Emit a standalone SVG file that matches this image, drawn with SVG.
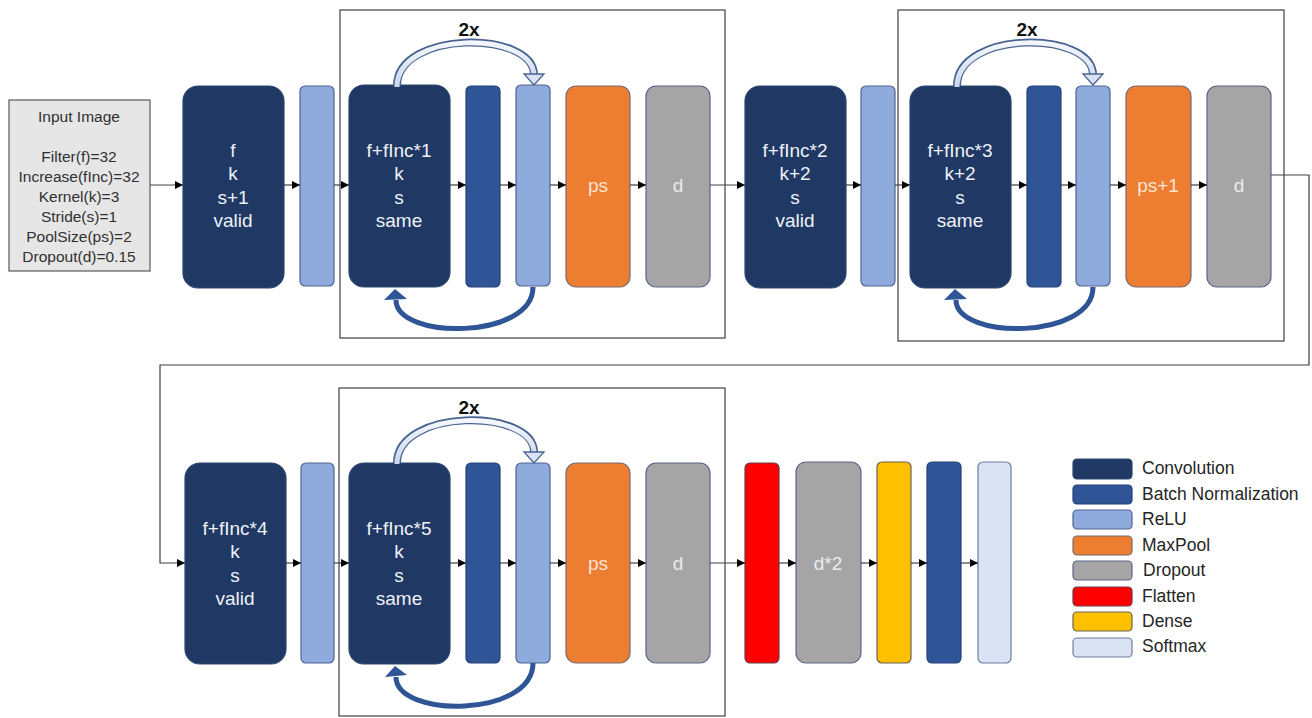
<svg xmlns="http://www.w3.org/2000/svg" width="1312" height="718" viewBox="0 0 1312 718">
  <defs>
    <marker id="arr" viewBox="0 0 10 10" refX="10" refY="5" markerWidth="9" markerHeight="8" markerUnits="userSpaceOnUse" orient="auto">
      <path d="M0,0 L10,5 L0,10 z" fill="#000"/>
    </marker>
    <linearGradient id="loopFill" x1="0" y1="0" x2="0" y2="1">
      <stop offset="0" stop-color="#f4f7fc"/>
      <stop offset="1" stop-color="#c9d6ee"/>
    </linearGradient>
  </defs>
  <style>
    .conv { fill: #1f3864; stroke: #2c4670; stroke-width: 1.2; }
    .bn { fill: #2f5597; stroke: #23427a; stroke-width: 1.2; }
    .relu { fill: #8faadc; stroke: #50648f; stroke-width: 1.2; }
    .pool { fill: #ed7d31; stroke: #7a6a70; stroke-width: 1.2; }
    .drop { fill: #a5a5a5; stroke: #5a6488; stroke-width: 1.2; }
    .flat { fill: #ff0000; stroke: #6a3a48; stroke-width: 1.2; }
    .dense { fill: #ffc000; stroke: #6a6050; stroke-width: 1.2; }
    .soft { fill: #dae3f3; stroke: #6f7d9c; stroke-width: 1.2; }
    .group { fill: none; stroke: #404040; stroke-width: 1.2; }
    .link { fill: none; stroke: #404040; stroke-width: 1.2; marker-end: url(#arr); }
    .t { font-family: "Liberation Sans", Arial, sans-serif; font-size: 19px; text-anchor: middle; }
    .tw { fill: #eef1f7; }
    .tp { fill: #fbe5d6; }
    .td { fill: #ececec; }
    .info { font-family: "Liberation Sans", Arial, sans-serif; font-size: 15.5px; fill: #303030; text-anchor: middle; }
    .rep { font-family: "Liberation Sans", Arial, sans-serif; font-size: 19px; font-weight: bold; fill: #111; text-anchor: middle; }
    .leg { font-family: "Liberation Sans", Arial, sans-serif; font-size: 17.5px; fill: #262626; }
    .hollow { fill: none; stroke: #4a6491; stroke-width: 8; }
    .hollowIn { fill: none; stroke: url(#loopFill); stroke-width: 5; }
    .back { fill: none; stroke: #2f5597; stroke-width: 5; }
  </style>

  <!-- repeat blocks -->
  <g id="repeat-blocks">
    <rect class="group" x="340" y="10" width="385" height="328"/>
    <rect class="group" x="898" y="10" width="386" height="331"/>
    <rect class="group" x="339" y="388" width="386" height="328"/>
    <text class="rep" x="469" y="36">2x</text>
    <text class="rep" x="1027" y="36">2x</text>
    <text class="rep" x="469" y="414">2x</text>
  </g>

  <!-- input -->
  <g id="input">
    <rect x="9" y="100" width="141" height="171" fill="#e7e6e6" stroke="#595959" stroke-width="1.2"/>
    <text class="info" x="79" y="122">Input Image</text>
    <text class="info" x="79" y="162">Filter(f)=32</text>
    <text class="info" x="79" y="182">Increase(fInc)=32</text>
    <text class="info" x="79" y="202">Kernel(k)=3</text>
    <text class="info" x="79" y="222">Stride(s)=1</text>
    <text class="info" x="79" y="242">PoolSize(ps)=2</text>
    <text class="info" x="79" y="262">Dropout(d)=0.15</text>
  </g>

  <!-- row 1 -->
  <g id="conv1">
    <rect class="conv" x="183" y="86" width="101" height="202" rx="15"/>
    <text class="t tw" x="233" y="157">f</text>
    <text class="t tw" x="233" y="180">k</text>
    <text class="t tw" x="233" y="204">s+1</text>
    <text class="t tw" x="233" y="227">valid</text>
  </g>
  <g id="relu1"><rect class="relu" x="300" y="86" width="34" height="200" rx="5"/></g>
  <g id="conv2">
    <rect class="conv" x="349" y="85" width="101" height="202" rx="15"/>
    <text class="t tw" x="399" y="157">f+fInc*1</text>
    <text class="t tw" x="399" y="180">k</text>
    <text class="t tw" x="399" y="204">s</text>
    <text class="t tw" x="399" y="227">same</text>
  </g>
  <g id="bn2"><rect class="bn" x="466" y="86" width="34" height="201" rx="5"/></g>
  <g id="relu2"><rect class="relu" x="516" y="85" width="34" height="201" rx="5"/></g>
  <g id="pool1">
    <rect class="pool" x="566" y="86" width="64" height="201" rx="10"/>
    <text class="t tp" x="598" y="192">ps</text>
  </g>
  <g id="drop1">
    <rect class="drop" x="646" y="86" width="64" height="201" rx="10"/>
    <text class="t td" x="678" y="192">d</text>
  </g>
  <g id="conv3">
    <rect class="conv" x="745" y="86" width="101" height="202" rx="15"/>
    <text class="t tw" x="795" y="157">f+fInc*2</text>
    <text class="t tw" x="795" y="180">k+2</text>
    <text class="t tw" x="795" y="204">s</text>
    <text class="t tw" x="795" y="227">valid</text>
  </g>
  <g id="relu3"><rect class="relu" x="861" y="86" width="34" height="200" rx="5"/></g>
  <g id="conv4">
    <rect class="conv" x="910" y="86" width="101" height="202" rx="15"/>
    <text class="t tw" x="960" y="157">f+fInc*3</text>
    <text class="t tw" x="960" y="180">k+2</text>
    <text class="t tw" x="960" y="204">s</text>
    <text class="t tw" x="960" y="227">same</text>
  </g>
  <g id="bn4"><rect class="bn" x="1027" y="86" width="34" height="201" rx="5"/></g>
  <g id="relu4"><rect class="relu" x="1076" y="86" width="34" height="200" rx="5"/></g>
  <g id="pool2">
    <rect class="pool" x="1126" y="86" width="65" height="201" rx="10"/>
    <text class="t tp" x="1158" y="192">ps+1</text>
  </g>
  <g id="drop2">
    <rect class="drop" x="1207" y="86" width="64" height="201" rx="10"/>
    <text class="t td" x="1239" y="192">d</text>
  </g>

  <!-- row 2 -->
  <g id="conv5">
    <rect class="conv" x="185" y="463" width="101" height="201" rx="15"/>
    <text class="t tw" x="235" y="535">f+fInc*4</text>
    <text class="t tw" x="235" y="558">k</text>
    <text class="t tw" x="235" y="582">s</text>
    <text class="t tw" x="235" y="605">valid</text>
  </g>
  <g id="relu5"><rect class="relu" x="301" y="463" width="33" height="200" rx="5"/></g>
  <g id="conv6">
    <rect class="conv" x="349" y="463" width="101" height="201" rx="15"/>
    <text class="t tw" x="399" y="535">f+fInc*5</text>
    <text class="t tw" x="399" y="558">k</text>
    <text class="t tw" x="399" y="582">s</text>
    <text class="t tw" x="399" y="605">same</text>
  </g>
  <g id="bn6"><rect class="bn" x="466" y="463" width="34" height="200" rx="5"/></g>
  <g id="relu6"><rect class="relu" x="516" y="463" width="34" height="200" rx="5"/></g>
  <g id="pool3">
    <rect class="pool" x="566" y="463" width="64" height="200" rx="10"/>
    <text class="t tp" x="598" y="570">ps</text>
  </g>
  <g id="drop3">
    <rect class="drop" x="646" y="463" width="64" height="200" rx="10"/>
    <text class="t td" x="678" y="570">d</text>
  </g>
  <g id="flatten"><rect class="flat" x="745" y="463" width="34" height="200" rx="5"/></g>
  <g id="drop4">
    <rect class="drop" x="796" y="462" width="65" height="201" rx="10"/>
    <text class="t td" x="828" y="570">d*2</text>
  </g>
  <g id="dense1"><rect class="dense" x="877" y="462" width="34" height="201" rx="5"/></g>
  <g id="bn7"><rect class="bn" x="927" y="462" width="34" height="201" rx="5"/></g>
  <g id="softmax"><rect class="soft" x="978" y="462" width="33" height="201" rx="5"/></g>

  <!-- connectors -->
  <g id="connectors">
    <line class="link" x1="150" y1="185" x2="183" y2="185"/>
    <line class="link" x1="284" y1="185" x2="300" y2="185"/>
    <line class="link" x1="334" y1="185" x2="349" y2="185"/>
    <line class="link" x1="450" y1="185" x2="466" y2="185"/>
    <line class="link" x1="500" y1="185" x2="516" y2="185"/>
    <line class="link" x1="550" y1="185" x2="566" y2="185"/>
    <line class="link" x1="630" y1="185" x2="646" y2="185"/>
    <line class="link" x1="710" y1="185" x2="745" y2="185"/>
    <line class="link" x1="846" y1="185" x2="861" y2="185"/>
    <line class="link" x1="895" y1="185" x2="910" y2="185"/>
    <line class="link" x1="1011" y1="185" x2="1027" y2="185"/>
    <line class="link" x1="1061" y1="185" x2="1076" y2="185"/>
    <line class="link" x1="1110" y1="185" x2="1126" y2="185"/>
    <line class="link" x1="1191" y1="185" x2="1207" y2="185"/>
    <polyline class="link" points="1271,175 1309,175 1309,365 160,365 160,563 185,563"/>
    <line class="link" x1="286" y1="563" x2="301" y2="563"/>
    <line class="link" x1="334" y1="563" x2="349" y2="563"/>
    <line class="link" x1="450" y1="563" x2="466" y2="563"/>
    <line class="link" x1="500" y1="563" x2="516" y2="563"/>
    <line class="link" x1="550" y1="563" x2="566" y2="563"/>
    <line class="link" x1="630" y1="563" x2="646" y2="563"/>
    <line class="link" x1="710" y1="563" x2="745" y2="563"/>
    <line class="link" x1="779" y1="563" x2="796" y2="563"/>
    <line class="link" x1="861" y1="563" x2="877" y2="563"/>
    <line class="link" x1="911" y1="563" x2="927" y2="563"/>
    <line class="link" x1="961" y1="563" x2="978" y2="563"/>

    <!-- repeat loops: forward (hollow) over the top, return (solid) underneath -->
    <path class="hollow" d="M397,86 C397,30 534,30 534,75"/>
    <path class="hollowIn" d="M397,87 C397,30 534,30 534,76"/>
    <polygon points="524,74 544,74 534,85" fill="#dae3f3" stroke="#4a6491" stroke-width="1.3"/>
    <path class="back" d="M533,287 C533,340 396,340 396,300"/>
    <polygon points="384,300 407,299 395,289" fill="#2f5597"/>

    <path class="hollow" d="M957,86 C957,30 1093,30 1093,75"/>
    <path class="hollowIn" d="M957,87 C957,30 1093,30 1093,76"/>
    <polygon points="1083,74 1103,74 1093,85" fill="#dae3f3" stroke="#4a6491" stroke-width="1.3"/>
    <path class="back" d="M1093,287 C1093,340 956,340 956,300"/>
    <polygon points="944,300 967,299 955,289" fill="#2f5597"/>

    <path class="hollow" d="M397,463 C397,408 534,408 534,452"/>
    <path class="hollowIn" d="M397,464 C397,408 534,408 534,453"/>
    <polygon points="524,452 544,452 534,463" fill="#dae3f3" stroke="#4a6491" stroke-width="1.3"/>
    <path class="back" d="M533,663 C533,718 396,718 396,677"/>
    <polygon points="385,677 407,675 395,666" fill="#2f5597"/>
  </g>

  <!-- legend -->
  <g id="legend">
    <rect class="conv" x="1073" y="459" width="59" height="20" rx="4"/>
    <text class="leg" x="1142" y="474">Convolution</text>
    <rect class="bn" x="1073" y="485" width="59" height="19" rx="4"/>
    <text class="leg" x="1142" y="500">Batch Normalization</text>
    <rect class="relu" x="1073" y="510" width="59" height="19" rx="4"/>
    <text class="leg" x="1142" y="525">ReLU</text>
    <rect class="pool" x="1073" y="536" width="59" height="19" rx="4"/>
    <text class="leg" x="1142" y="551">MaxPool</text>
    <rect class="drop" x="1073" y="561" width="59" height="19" rx="4"/>
    <text class="leg" x="1143" y="576">Dropout</text>
    <rect class="flat" x="1073" y="587" width="59" height="19" rx="4"/>
    <text class="leg" x="1142" y="602">Flatten</text>
    <rect class="dense" x="1073" y="612" width="59" height="19" rx="4"/>
    <text class="leg" x="1142" y="627">Dense</text>
    <rect class="soft" x="1073" y="638" width="59" height="19" rx="4"/>
    <text class="leg" x="1142" y="652">Softmax</text>
  </g>
</svg>
